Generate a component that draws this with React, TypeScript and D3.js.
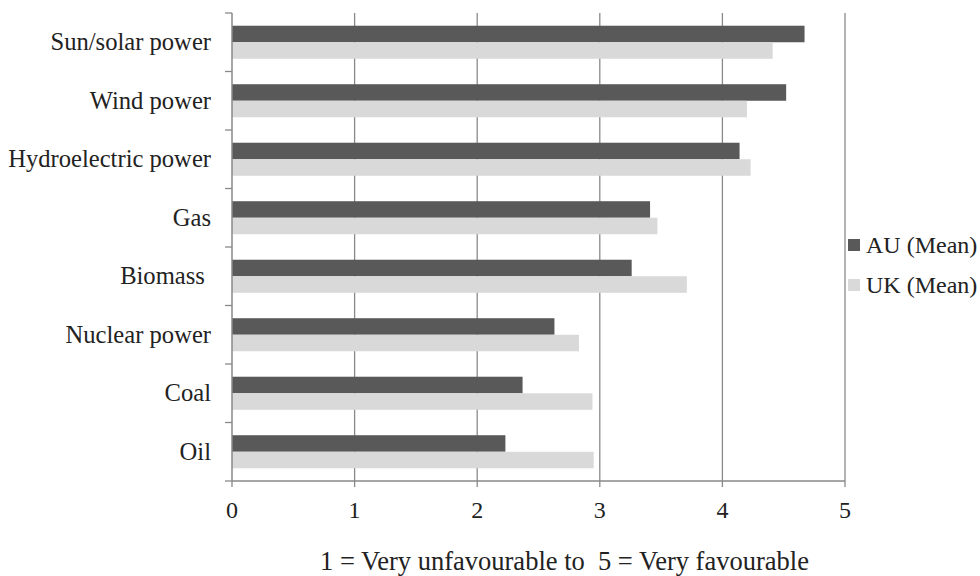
import React from "react";
import * as d3 from "d3";

const categories = [
  "Sun/solar power",
  "Wind power",
  "Hydroelectric power",
  "Gas",
  "Biomass ",
  "Nuclear power",
  "Coal",
  "Oil",
];
const seriesNames = ["AU (Mean)", "UK (Mean)"];
const auValues = [4.67, 4.52, 4.14, 3.41, 3.26, 2.63, 2.37, 2.23];
const ukValues = [4.41, 4.2, 4.23, 3.47, 3.71, 2.83, 2.94, 2.95];
const xTicks = [0, 1, 2, 3, 4, 5];
const seriesColors = ["#595959", "#d9d9d9"];
const xTitle = "1 = Very unfavourable to  5 = Very favourable";

const W = 980;
const H = 576;
const left = 232;
const right = 845;
const top = 13;
const bottom = 481;
const font = "'Liberation Serif', 'Times New Roman', serif";
const gridColor = "#898989";
const textColor = "#222";

export default function App() {
  const x = d3.scaleLinear().domain([0, 5]).range([left, right]);
  const y = d3.scaleBand<string>().domain(categories).range([top, bottom]).padding(0);
  const ySub = d3
    .scaleBand<string>()
    .domain(seriesNames)
    .range([0, y.bandwidth()])
    .paddingInner(0)
    .paddingOuter(0.77);
  const seriesValues = [auValues, ukValues];
  const boundaries = categories.map((c) => y(c) as number).concat([bottom]);

  return (
    <svg
      width={W}
      height={H}
      style={{ position: "absolute", left: 0, top: 0, background: "#fff" }}
      fontFamily={font}
    >
      {/* gridlines */}
      {xTicks.slice(1).map((t) => (
        <line key={"g" + t} x1={x(t)} x2={x(t)} y1={top} y2={bottom} stroke={gridColor} strokeWidth={1.3} />
      ))}
      {/* bars */}
      {categories.map((c, i) =>
        seriesNames.map((s, j) => (
          <rect
            key={c + s}
            x={x(0)}
            y={(y(c) as number) + (ySub(s) as number)}
            width={x(seriesValues[j][i]) - x(0)}
            height={ySub.bandwidth()}
            fill={seriesColors[j]}
          />
        ))
      )}
      {/* y axis */}
      <line x1={left} x2={left} y1={top} y2={bottom} stroke={gridColor} strokeWidth={1.5} />
      {boundaries.map((b, i) => (
        <line key={"yt" + i} x1={left - 7} x2={left} y1={b} y2={b} stroke={gridColor} strokeWidth={1.3} />
      ))}
      {/* x axis */}
      <line x1={left} x2={right} y1={bottom} y2={bottom} stroke={gridColor} strokeWidth={1.5} />
      {xTicks.map((t) => (
        <line key={"xt" + t} x1={x(t)} x2={x(t)} y1={bottom} y2={bottom + 6} stroke={gridColor} strokeWidth={1.3} />
      ))}
      {xTicks.map((t) => (
        <text key={"xl" + t} x={x(t)} y={518} textAnchor="middle" fontSize={24} fill={textColor}>
          {t}
        </text>
      ))}
      {/* category labels */}
      {categories.map((c) => (
        <text
          key={"cl" + c}
          x={211}
          y={(y(c) as number) + y.bandwidth() / 2 + 8}
          textAnchor="end"
          fontSize={24.6}
          fill={textColor}
          style={{ whiteSpace: "pre" }}
        >
          {c}
        </text>
      ))}
      {/* axis title */}
      <text x={564.5} y={569.5} textAnchor="middle" fontSize={26.5} fill={textColor} style={{ whiteSpace: "pre" }}>
        {xTitle}
      </text>
      {/* legend */}
      {seriesNames.map((s, j) => (
        <g key={"lg" + s} transform={`translate(848, ${239 + j * 40})`}>
          <rect x={0} y={0} width={12} height={12} fill={seriesColors[j]} />
          <text x={18} y={14} fontSize={24} fill={textColor}>
            {s}
          </text>
        </g>
      ))}
    </svg>
  );
}
